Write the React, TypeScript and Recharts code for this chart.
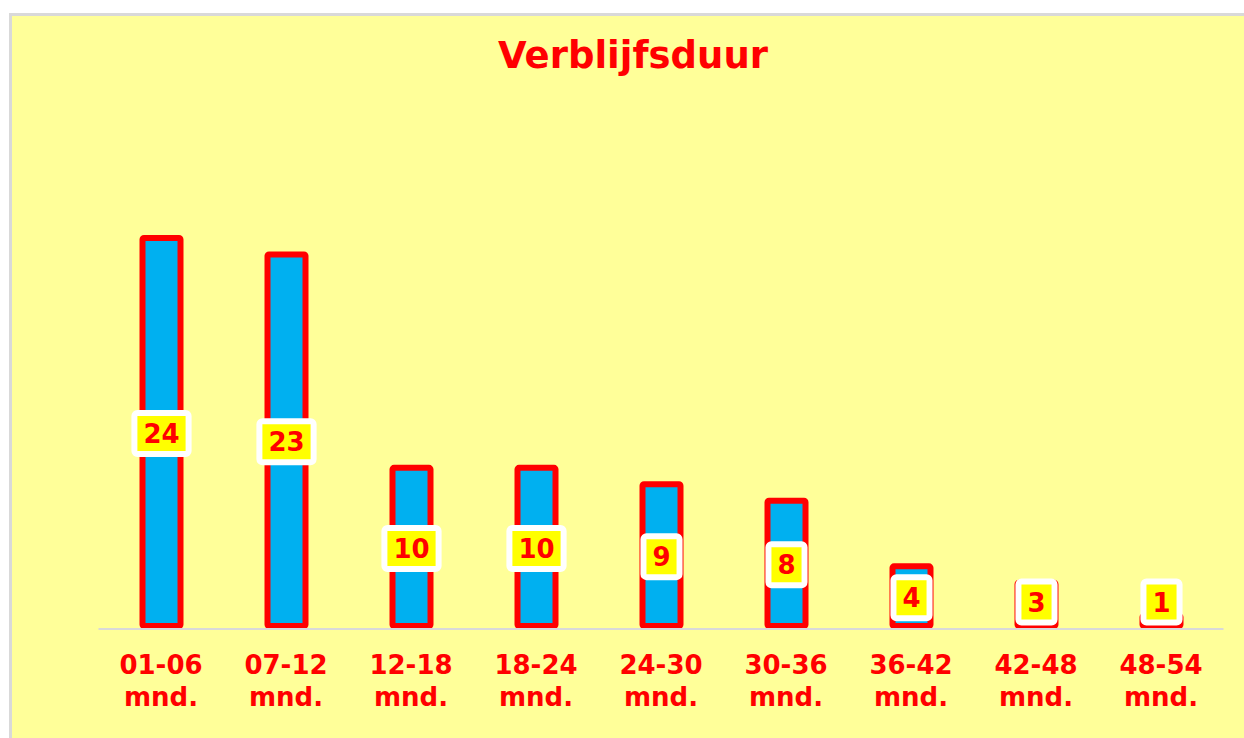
import React from "react";
import { BarChart, Bar, XAxis, YAxis, LabelList } from "recharts";

const categories = ["01-06", "07-12", "12-18", "18-24", "24-30", "30-36", "36-42", "42-48", "48-54"];
const unitLabel = "mnd.";
const values = [24, 23, 10, 10, 9, 8, 4, 3, 1];
const title = "Verblijfsduur";

const data = categories.map((c, i) => ({ name: c, value: values[i] }));

const RED = "#FF0000";
const FONT = "'DejaVu Sans', Verdana, sans-serif";

const BarShape = (props: any) => {
  const { x, y, width, height } = props;
  const sw = 6;
  return (
    <rect
      x={x + sw / 2}
      y={y + sw / 2}
      width={Math.max(0, width - sw)}
      height={Math.max(0, height - sw)}
      fill="#00B0F0"
      stroke={RED}
      strokeWidth={sw}
      rx={1.5}
    />
  );
};

const BoxLabel = (props: any) => {
  const { x, y, width, height, value } = props;
  const text = String(value);
  const cx = x + width / 2;
  const baseY = y + height;
  const cy = Math.min(y + height / 2 + 1.5, baseY - 27);
  const textW = text.length * 18.1;
  const innerW = textW + 12;
  const innerH = 35;
  return (
    <g>
      <rect
        x={cx - innerW / 2 - 3}
        y={cy - innerH / 2 - 3}
        width={innerW + 6}
        height={innerH + 6}
        fill="#FFFF00"
        stroke="#FFFFFF"
        strokeWidth={6}
        rx={3}
      />
      <text
        x={cx}
        y={cy}
        dy={9.5}
        textAnchor="middle"
        fill={RED}
        fontSize={26}
        fontWeight="bold"
        fontFamily={FONT}
      >
        {text}
      </text>
    </g>
  );
};

const TwoLineTick = (props: any) => {
  const { x, y, payload } = props;
  return (
    <text textAnchor="middle" fill={RED} fontSize={26} fontWeight="bold" fontFamily={FONT}>
      <tspan x={x} y={y + 45}>{payload.value}</tspan>
      <tspan x={x} y={y + 77}>{unitLabel}</tspan>
    </text>
  );
};

export default function App() {
  return (
    <div
      style={{
        position: "absolute",
        left: 9,
        top: 13,
        width: 1232,
        height: 722,
        background: "#FFFF99",
        borderTop: "3px solid #D9D9D9",
        borderLeft: "3px solid #D9D9D9",
        overflow: "hidden",
      }}
    >
      <div
        style={{
          position: "absolute",
          left: 0,
          width: 1242,
          top: 15,
          textAlign: "center",
          color: RED,
          fontFamily: FONT,
          fontWeight: "bold",
          fontSize: 37,
          lineHeight: "50px",
        }}
      >
        {title}
      </div>
      <BarChart
        width={1232}
        height={722}
        data={data}
        margin={{ top: 219, right: 20.5, bottom: 9, left: 86.5 }}
        barSize={44}
      >
        <YAxis hide domain={[0, 24]} />
        <XAxis
          dataKey="name"
          height={100}
          tickLine={false}
          tickSize={0}
          tickMargin={0}
          axisLine={{ stroke: "#D9D9D9", strokeWidth: 2 }}
          tick={<TwoLineTick />}
          interval={0}
        />
        <Bar dataKey="value" shape={<BarShape />} isAnimationActive={false}>
          <LabelList dataKey="value" content={<BoxLabel />} />
        </Bar>
      </BarChart>
    </div>
  );
}
